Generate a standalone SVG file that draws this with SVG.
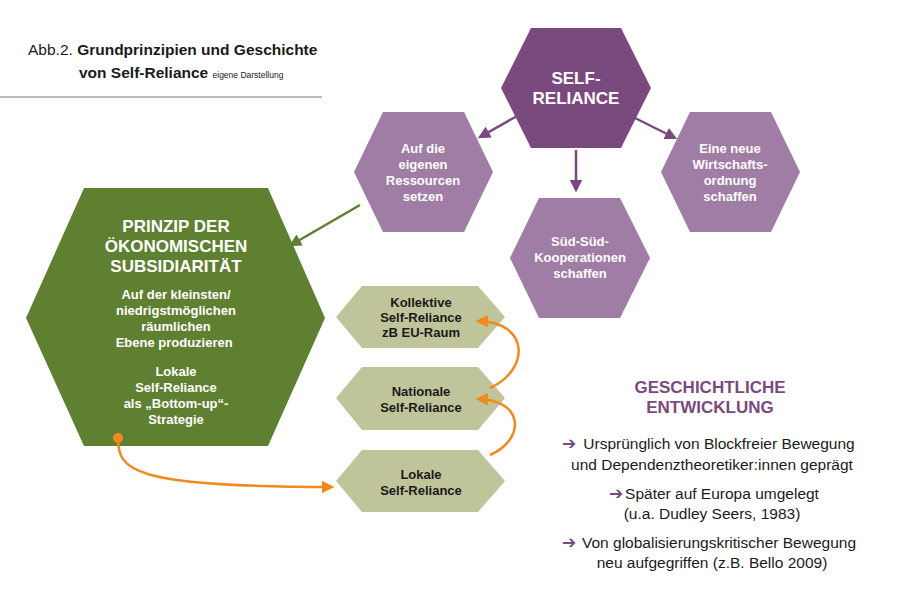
<svg xmlns="http://www.w3.org/2000/svg" width="900" height="600" viewBox="0 0 900 600">
<style>
text{font-family:"Liberation Sans",Arial,sans-serif;text-anchor:middle}
.w{fill:#fff;font-weight:bold}
.k{fill:#1a1a1a;font-weight:bold;font-size:13px}
.h{fill:#1a1a1a;font-size:15.5px}
.pa{fill:#7a4a7e;font-family:"DejaVu Sans",sans-serif;font-weight:bold}
</style>
<defs>
<marker id="ap" viewBox="0 0 10 10" refX="8" refY="5" markerWidth="5" markerHeight="5" orient="auto"><path d="M0,0L10,5L0,10z" fill="#7a4a7e"/></marker>
<marker id="ag" viewBox="0 0 10 10" refX="8" refY="5" markerWidth="5" markerHeight="5" orient="auto"><path d="M0,0L10,5L0,10z" fill="#5e8030"/></marker>
<marker id="ao" viewBox="0 0 10 10" refX="8" refY="5" markerWidth="5" markerHeight="5" orient="auto"><path d="M0,0L10,5L0,10z" fill="#f08a1c"/></marker>
</defs>
<rect width="900" height="600" fill="#fff"/>
<g id="title">
<text x="28" y="55" style="text-anchor:start;font-size:15.5px" fill="#1a1a1a">Abb.2. <tspan font-weight="bold">Grundprinzipien und Geschichte</tspan></text>
<text x="79" y="78" style="text-anchor:start;font-size:15.5px;font-weight:bold" fill="#1a1a1a">von Self-Reliance <tspan font-weight="normal" font-size="8.5">eigene Darstellung</tspan></text>
<line x1="0" y1="97" x2="322" y2="97" stroke="#8a6a8c" stroke-width="1"/>
</g>
<g id="self-reliance"><polygon points="531,28 621,28 651,88 621,148 531,148 501,88" fill="#7a4a7e"/>
<text class="w" x="576" y="84" font-size="17">SELF-</text><text class="w" x="576" y="104" font-size="17">RELIANCE</text></g>
<g id="ressourcen"><polygon points="383,112 464,112 493,172 464,232 383,232 354,172" fill="#9f7da4"/>
<text class="w" font-size="13"><tspan x="423" y="153">Auf die</tspan><tspan x="423" y="169">eigenen</tspan><tspan x="423" y="185">Ressourcen</tspan><tspan x="423" y="201">setzen</tspan></text></g>
<g id="wirtschaft"><polygon points="690,112 771,112 800,172 771,232 690,232 661,172" fill="#9f7da4"/>
<text class="w" font-size="13"><tspan x="730" y="153">Eine neue</tspan><tspan x="730" y="169">Wirtschafts-</tspan><tspan x="730" y="185">ordnung</tspan><tspan x="730" y="201">schaffen</tspan></text></g>
<g id="sued"><polygon points="539,198 620,198 650,258 620,318 539,318 510,258" fill="#9f7da4"/>
<text class="w" font-size="13"><tspan x="580" y="246">Süd-Süd-</tspan><tspan x="580" y="262">Kooperationen</tspan><tspan x="580" y="278">schaffen</tspan></text></g>
<g id="prinzip"><polygon points="84,188 268,188 325,318 268,446 84,446 26,318" fill="#5e8030"/>
<text class="w" font-size="17"><tspan x="176" y="232">PRINZIP DER</tspan><tspan x="176" y="252">ÖKONOMISCHEN</tspan><tspan x="176" y="272">SUBSIDIARITÄT</tspan></text>
<text class="w" font-size="13"><tspan x="176" y="299">Auf der kleinsten/</tspan><tspan x="176" y="315">niedrigstmöglichen</tspan><tspan x="176" y="331">räumlichen</tspan><tspan x="176" y="347">Ebene produzieren</tspan>
<tspan x="176" y="376">Lokale</tspan><tspan x="176" y="392">Self-Reliance</tspan><tspan x="176" y="408">als „Bottom-up“-</tspan><tspan x="176" y="424">Strategie</tspan></text></g>
<g id="kollektive"><polygon points="362,286 478,286 505,317 478,348 362,348 336,317" fill="#c0c49b"/>
<text class="k"><tspan x="421" y="307">Kollektive</tspan><tspan x="421" y="322">Self-Reliance</tspan><tspan x="421" y="337">zB EU-Raum</tspan></text></g>
<g id="nationale"><polygon points="362,367 478,367 505,398 478,430 362,430 336,398" fill="#c0c49b"/>
<text class="k"><tspan x="421" y="396">Nationale</tspan><tspan x="421" y="412">Self-Reliance</tspan></text></g>
<g id="lokale"><polygon points="362,450 478,450 505,481 478,512 362,512 336,481" fill="#c0c49b"/>
<text class="k"><tspan x="421" y="479">Lokale</tspan><tspan x="421" y="495">Self-Reliance</tspan></text></g>
<g id="connectors" fill="none" stroke-width="2.5">
<line x1="517" y1="116" x2="480" y2="137" stroke="#7a4a7e" marker-end="url(#ap)"/>
<line x1="576" y1="150" x2="576" y2="190" stroke="#7a4a7e" marker-end="url(#ap)"/>
<line x1="633" y1="117" x2="675" y2="138" stroke="#7a4a7e" marker-end="url(#ap)"/>
<line x1="360" y1="205" x2="291" y2="245" stroke="#5e8030" marker-end="url(#ag)"/>
<path d="M118,438 C118,470 130,487 332,487" stroke="#f08a1c" marker-end="url(#ao)"/>
<circle cx="118" cy="438" r="5" fill="#f08a1c" stroke="none"/>
<path d="M490,455 C525,440 525,400 478,399" stroke="#f08a1c" marker-end="url(#ao)"/>
<path d="M490,388 C530,370 530,322 478,321" stroke="#f08a1c" marker-end="url(#ao)"/>
</g>
<g id="geschichte">
<text x="710" y="393" font-size="17" font-weight="bold" fill="#7a4a7e">GESCHICHTLICHE</text>
<text x="710" y="413" font-size="17" font-weight="bold" fill="#7a4a7e">ENTWICKLUNG</text>
<text x="569" y="449" class="pa" font-size="17">➔</text><text x="719" y="449" class="h">Ursprünglich von Blockfreier Bewegung</text>
<text x="712" y="470" class="h">und Dependenztheoretiker:innen geprägt</text>
<text x="616" y="499" class="pa" font-size="17">➔</text><text x="722" y="499" class="h">Später auf Europa umgelegt</text>
<text x="712" y="519" class="h">(u.a. Dudley Seers, 1983)</text>
<text x="569" y="548" class="pa" font-size="17">➔</text><text x="719" y="548" class="h">Von globalisierungskritischer Bewegung</text>
<text x="712" y="568" class="h">neu aufgegriffen (z.B. Bello 2009)</text>
</g>
</svg>
